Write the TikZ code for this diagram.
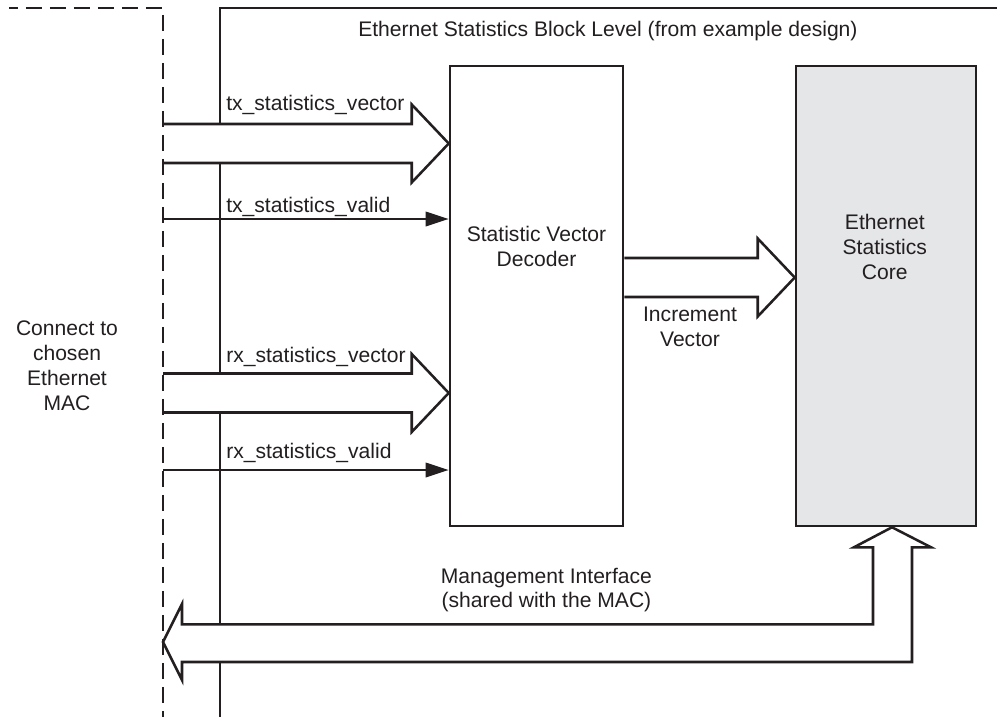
\documentclass[tikz,border=0pt]{standalone}
\usepackage{fontspec}
\setmainfont{Liberation Sans}
\usepackage{tikz}
\usetikzlibrary{arrows.meta,calc,positioning}
\definecolor{corefill}{RGB}{229,230,232}
\definecolor{linegray}{RGB}{35,31,32}

% wide bus arrow, open at its start
\def\bodyw{0.4875}
\def\headw{0.975}
\def\headl{0.925}
\newcommand{\busright}[2]{%
\filldraw[fill=white] ($(#1)+(0,\bodyw)$) -- ($(#2)+(-\headl,\bodyw)$) -- ($(#2)+(-\headl,\headw)$) -- (#2) -- ($(#2)+(-\headl,-\headw)$) -- ($(#2)+(-\headl,-\bodyw)$) -- ($(#1)+(0,-\bodyw)$);}

\begin{document}
\begin{tikzpicture}[line width=1.8pt,color=linegray,>={Triangle[length=5.8mm,width=3.6mm]},
	every node/.style={font=\fontsize{15}{17.7}\selectfont,align=center},
	blk/.style={draw,minimum width=4.325cm,minimum height=11.5cm,inner sep=0pt}]

\useasboundingbox (0,0) rectangle (24.925,-17.925);

% block level outline
\draw (5.5,-17.925) -- (5.5,-0.2) -- (24.925,-0.2);

\node[blk] (dec) at (13.4125,-7.4) {};
\node[blk,fill=corefill,minimum width=4.5cm] (core) at (22.15,-7.4) {};

\coordinate (txvec) at (4.075,-3.5875);
\coordinate (txval) at (4.075,-5.475);
\coordinate (rxvec) at (4.075,-9.825);
\coordinate (rxval) at (4.075,-11.75);
\coordinate (mgmt) at (4.075,-16.05);
\coordinate (txtip) at (txvec -| dec.west);
\coordinate (rxtip) at (rxvec -| dec.west);
\coordinate (incstart) at ($(dec.east)+(0,0.4625)$);
\coordinate (inctip) at (incstart -| core.west);
\coordinate (coretip) at ($(core.south)+(0.15,0)$);

\busright{txvec}{txtip}
\busright{rxvec}{rxtip}
\busright{incstart}{inctip}

\draw[->] (txval) -- (txval -| dec.west);
\draw[->] (rxval) -- (rxval -| dec.west);

% management interface
\filldraw[fill=white] (mgmt) -- ++(0.475,0.95) |- ($(coretip)+(-0.475,-2.425)$) -- ++(0,1.925) -- ++(-0.475,0) -- (coretip) -- ++(0.975,-0.5) -- ++(-0.475,0) |- ($(mgmt)+(0.475,-0.5)$) -- ++(0,-0.45) -- cycle;

% MAC boundary
\draw[line width=1pt,dash pattern=on 0.4cm off 0.2cm,dash phase=0.175cm] (0.225,-0.2) -- (4.075,-0.2) -- (4.075,-17.925);

\node[anchor=west,inner sep=0pt] at (8.925,-0.775) {Ethernet Statistics Block Level (from example design)};
\node[anchor=base west,inner sep=0pt] at (5.625,-2.75) {tx\_statistics\_vector};
\node[anchor=base west,inner sep=0pt] at (5.625,-5.3) {tx\_statistics\_valid};
\node[anchor=base west,inner sep=0pt] at (5.625,-9.05) {rx\_statistics\_vector};
\node[anchor=base west,inner sep=0pt] at (5.625,-11.45) {rx\_statistics\_valid};
\node at ($(dec.north)+(0,-4.54)$) {Statistic Vector\\Decoder};
\node at ($(core.north)+(-0.03,-4.55)$) {Ethernet\\Statistics\\Core};
\node at (17.25,-8.175) {Increment\\Vector};
\node at (1.675,-9.14) {Connect to\\chosen\\Ethernet\\MAC};
\node at (13.66,-14.75) {Management Interface\\(shared with the MAC)};

\end{tikzpicture}
\end{document}
